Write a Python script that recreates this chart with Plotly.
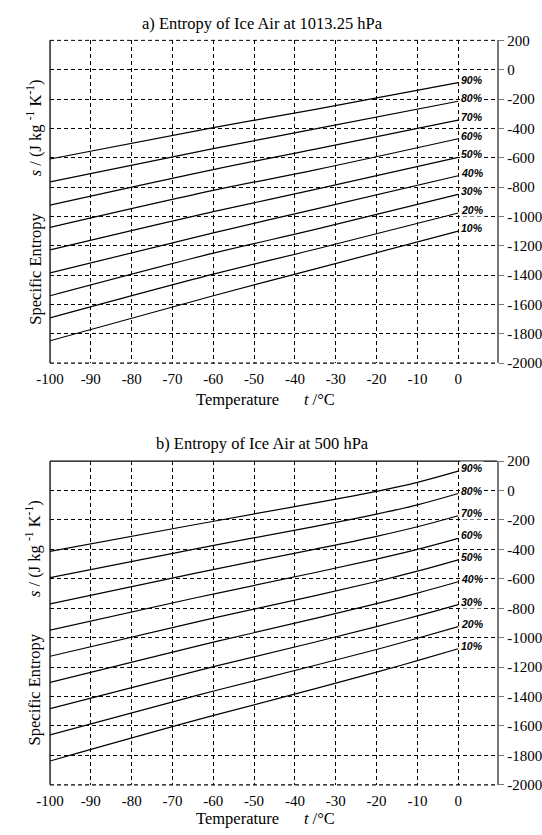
import plotly.graph_objects as go

# ---------------- data ----------------
rh_labels = ["90%", "80%", "70%", "60%", "50%", "40%", "30%", "20%", "10%"]

# a) 1013.25 hPa
t_a = [-100, -60, -35, 0]
s_a = [
    [-609, -395, -270, -88],
    [-765, -538, -404, -215],
    [-923, -681, -542, -344],
    [-1075, -823, -683, -471],
    [-1229, -968, -816, -598],
    [-1385, -1113, -950, -723],
    [-1541, -1251, -1089, -850],
    [-1692, -1394, -1224, -977],
    [-1848, -1541, -1358, -1101],
]

# b) 500 hPa
t_b = [-100, -64, -35, -20, -10, 0]
s_b = [
    [-413, -229, -84, -5, 56, 132],
    [-592, -394, -243, -160, -97, -20],
    [-770, -559, -398, -311, -246, -171],
    [-948, -727, -557, -466, -400, -325],
    [-1126, -892, -714, -618, -548, -471],
    [-1304, -1057, -869, -769, -697, -620],
    [-1482, -1225, -1029, -925, -852, -775],
    [-1660, -1392, -1187, -1080, -1004, -925],
    [-1838, -1559, -1346, -1234, -1156, -1075],
]

x_ticks = [-100, -90, -80, -70, -60, -50, -40, -30, -20, -10, 0]
x_ticktext = ["-100", "-90", "-80", "-70", "-60", "-50", "-40", "-30", "-20", "-10", "0"]
y_ticks = [200, 0, -200, -400, -600, -800, -1000, -1200, -1400, -1600, -1800, -2000]
y_ticktext = ["200", "0", "-200", "-400", "-600", "-800", "-1000", "-1200",
              "-1400", "-1600", "-1800", "-2000"]

title_a = "a) Entropy of Ice Air at 1013.25 hPa"
title_b = "b) Entropy of Ice Air at 500 hPa"

# ---------------- figure ----------------
W, H = 542, 835
SERIF = "Liberation Serif"
fig = go.Figure()

for curves, tt, xa, ya in [(s_a, t_a, "x", "y"), (s_b, t_b, "x2", "y2")]:
    for lab, ys in zip(rh_labels, curves):
        fig.add_trace(go.Scatter(
            x=tt, y=ys, xaxis=xa, yaxis=ya, mode="lines",
            line=dict(color="black", width=1.2, shape="spline", smoothing=1.0),
            showlegend=False, hoverinfo="skip"))
        fig.add_annotation(
            x=tt[-1], y=ys[-1], xref=xa, yref=ya,
            text="<b><i>" + lab + "</i></b>", showarrow=False,
            xanchor="left", yanchor="middle", xshift=2, yshift=3,
            bgcolor="white", borderpad=0,
            font=dict(family="Liberation Sans", size=10.5, color="black"))

x_dom = [37 / W, 496 / W]
ya_dom = [1 - 362 / H, 1 - 33 / H]
yb_dom = [1 - 792 / H, 1 - 462 / H]

DASH = "4px,3px"
xcommon = dict(range=[-100, 9.55], tickvals=x_ticks, ticktext=x_ticktext,
               showgrid=True, gridcolor="black", gridwidth=1, griddash=DASH,
               zeroline=False, showline=False, ticks="outside", ticklen=2,
               tickcolor="rgba(0,0,0,0)",
               tickfont=dict(family=SERIF, size=15, color="black"))
ycommon = dict(range=[-2000, 200], tickvals=y_ticks, ticktext=y_ticktext,
               side="right", showgrid=True, gridcolor="black", gridwidth=1,
               griddash=DASH, zeroline=False, showline=True,
               linecolor="#777777", linewidth=2, ticks="outside", ticklen=5,
               tickcolor="#777777", tickwidth=1,
               tickfont=dict(family=SERIF, size=15, color="black"))

fig.update_layout(
    width=W, height=H, margin=dict(l=0, r=0, t=0, b=0),
    paper_bgcolor="white", plot_bgcolor="white", showlegend=False,
    xaxis=dict(domain=x_dom, anchor="y", **xcommon),
    yaxis=dict(domain=ya_dom, anchor="x", **ycommon),
    xaxis2=dict(domain=x_dom, anchor="y2", **xcommon),
    yaxis2=dict(domain=yb_dom, anchor="x2", **ycommon),
)

# frame lines
for xd, yd, top_solid in [("x domain", "y domain", False), ("x2 domain", "y2 domain", True)]:
    fig.add_shape(type="line", xref=xd, yref=yd, x0=0, x1=1, y0=0, y1=0,
                  line=dict(color="black", width=1.3, dash=DASH), layer="below")
    if top_solid:
        fig.add_shape(type="line", xref=xd, yref=yd, x0=0, x1=1, y0=1, y1=1,
                      line=dict(color="black", width=1.2), layer="below")
    else:
        fig.add_shape(type="line", xref=xd, yref=yd, x0=0, x1=1, y0=1, y1=1,
                      line=dict(color="black", width=1, dash=DASH), layer="below")
    fig.add_shape(type="line", xref=xd, yref=yd, x0=0, x1=0, y0=0, y1=1,
                  line=dict(color="black", width=1.3))

def txt(text, x, y, angle=0, size=16.5):
    fig.add_annotation(text=text, x=x / W, y=1 - y / H, xref="paper", yref="paper",
                       showarrow=False, xanchor="center", yanchor="middle",
                       textangle=angle, font=dict(family=SERIF, size=size, color="black"))

NB = "\u00a0"
xtitle = "Temperature" + NB * 6 + "<i>t</i> /°C"
ytitle = ("Specific Entropy" + NB * 9 + "<i>s</i> / (J kg <sup>-1</sup> K<sup>-1</sup>)")

txt(title_a, 255, 16)
txt(xtitle, 258, 399)
txt(ytitle, 21, 198, angle=-90)
txt(title_b, 255, 444)
txt(xtitle, 258, 826)
txt(ytitle, 21, 627, angle=-90)

fig.write_html("out.html")
